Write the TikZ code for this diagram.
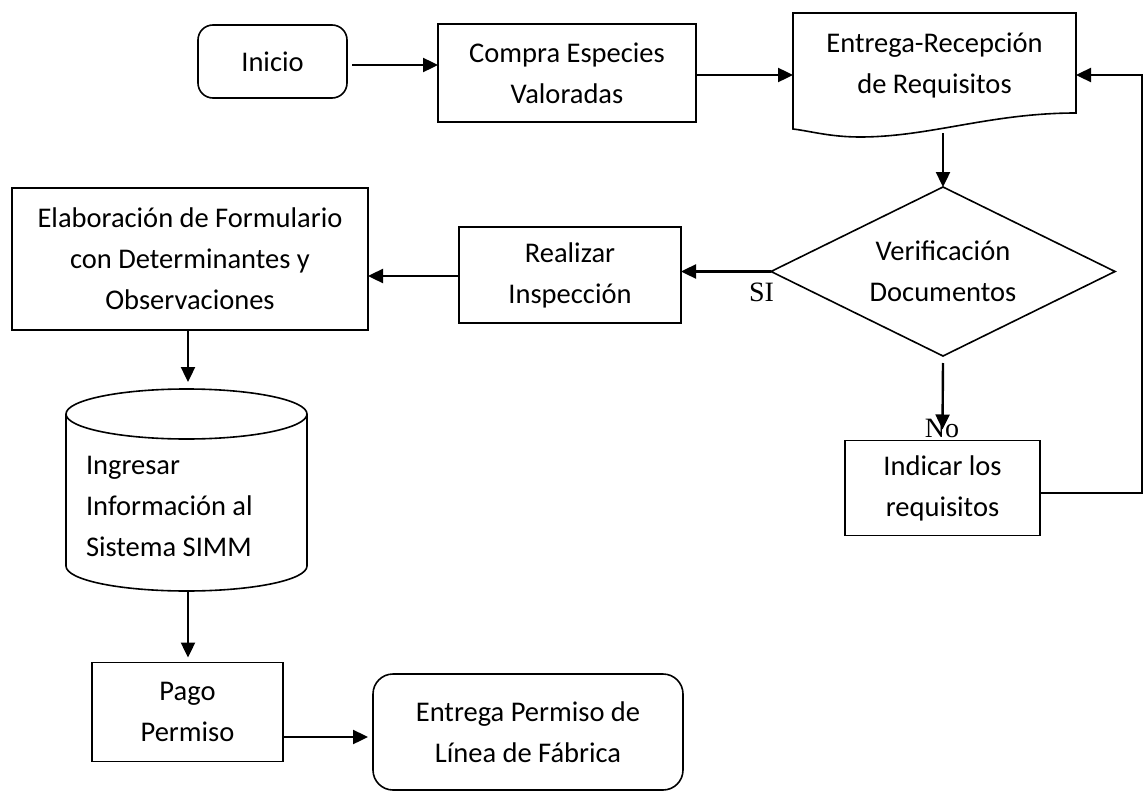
\documentclass[tikz,border=0pt]{standalone}
\usepackage{fontspec}
\setmainfont{Carlito}
\newfontfamily\timesf{Liberation Serif}
\usetikzlibrary{arrows.meta}
\begin{document}
\begin{tikzpicture}[x=1pt,y=-1pt,
  every node/.style={font=\fontsize{28.5}{41}\selectfont, align=center, inner sep=0pt, outer sep=0pt},
  box/.style={draw, line width=1.6pt},
  rbox/.style={box, rounded corners=15pt},
  shapeline/.style={line width=1.6pt},
  arr/.style={line width=2.4pt, -{Triangle[length=15pt,width=14pt]}},
  lbl/.style={font=\timesf\fontsize{28}{30}\selectfont}
]
\useasboundingbox (0,0) rectangle (1144,792);

% nodes
\node[rbox, minimum width=149, minimum height=73] (inicio) at (272.5,61.5) {Inicio};
\node[box, minimum width=258, minimum height=98] (compra) at (567,73) {Compra Especies\\Valoradas};
\node[minimum width=283, minimum height=100] (entrega) at (934.5,65) {Entrega-Recepción\\de Requisitos};
\draw[shapeline] (793,13) -- (1076,13) -- (1076,113)
  .. controls (990,113) and (930,137) .. (860,137)
  .. controls (830,137) and (810,131) .. (793,129) -- cycle;
\coordinate (entregabot) at (943,133);

\node[minimum width=344, minimum height=169] (verif) at (943,271.5) {Verificación\\Documentos};
\draw[shapeline] (verif.north) -- (verif.east) -- (verif.south) -- (verif.west) -- cycle;

\node[box, minimum width=222, minimum height=96] (realizar) at (570,275) {Realizar\\Inspección};
\node[box, minimum width=356, minimum height=142] (elab) at (190,259) {Elaboración de Formulario\\con Determinantes y\\Observaciones};
\node[box, minimum width=195, minimum height=95] (indicar) at (942.5,488) {Indicar los\\requisitos};

% cylinder
\draw[shapeline] (66,414) -- (66,566) .. controls (66,580) and (120,591) .. (186.5,591)
  .. controls (253,591) and (307,580) .. (307,566) -- (307,414);
\draw[shapeline] (186.5,414) ellipse [x radius=120.5, y radius=25];
\coordinate (cyltop) at (188,389);
\coordinate (cylbot) at (188,591);
\node[anchor=west, align=left] (cyltext) at (86,506) {Ingresar\\Información al\\Sistema SIMM};

\node[box, minimum width=191, minimum height=99] (pago) at (187.5,712) {Pago\\Permiso};
\node[rbox, rounded corners=20pt, minimum width=310, minimum height=116] (final) at (528,732) {Entrega Permiso de\\Línea de Fábrica};

% labels
\node[lbl] (si) at (761.5,292.5) {SI};
\node[lbl] (no) at (942,428) {No};

% connectors
\draw[arr] ([xshift=5pt]inicio.east |- 0,65) -- (compra.west |- 0,65);
\draw[arr] (compra.east |- 0,75) -- (entrega.west |- 0,75);
\draw[arr] (entregabot) -- (verif.north);
\draw[arr] (verif.west) -- (realizar.east |- verif.west);
\draw[arr] ([yshift=-7pt]verif.south) -- ([yshift=11pt]indicar.north);
\draw[arr] (indicar.east |- 0,493) -- (1142,493) |- (entrega.east |- 0,75);
\draw[arr] (realizar.west |- 0,276) -- (elab.east |- 0,276);
\draw[arr] (elab.south -| cyltop) -- ([yshift=7pt]cyltop);
\draw[arr] (cylbot) -- ([yshift=5pt]pago.north -| cylbot);
\draw[arr] (pago.east |- 0,737) -- ([xshift=-5pt]final.west |- 0,737);
\end{tikzpicture}
\end{document}
